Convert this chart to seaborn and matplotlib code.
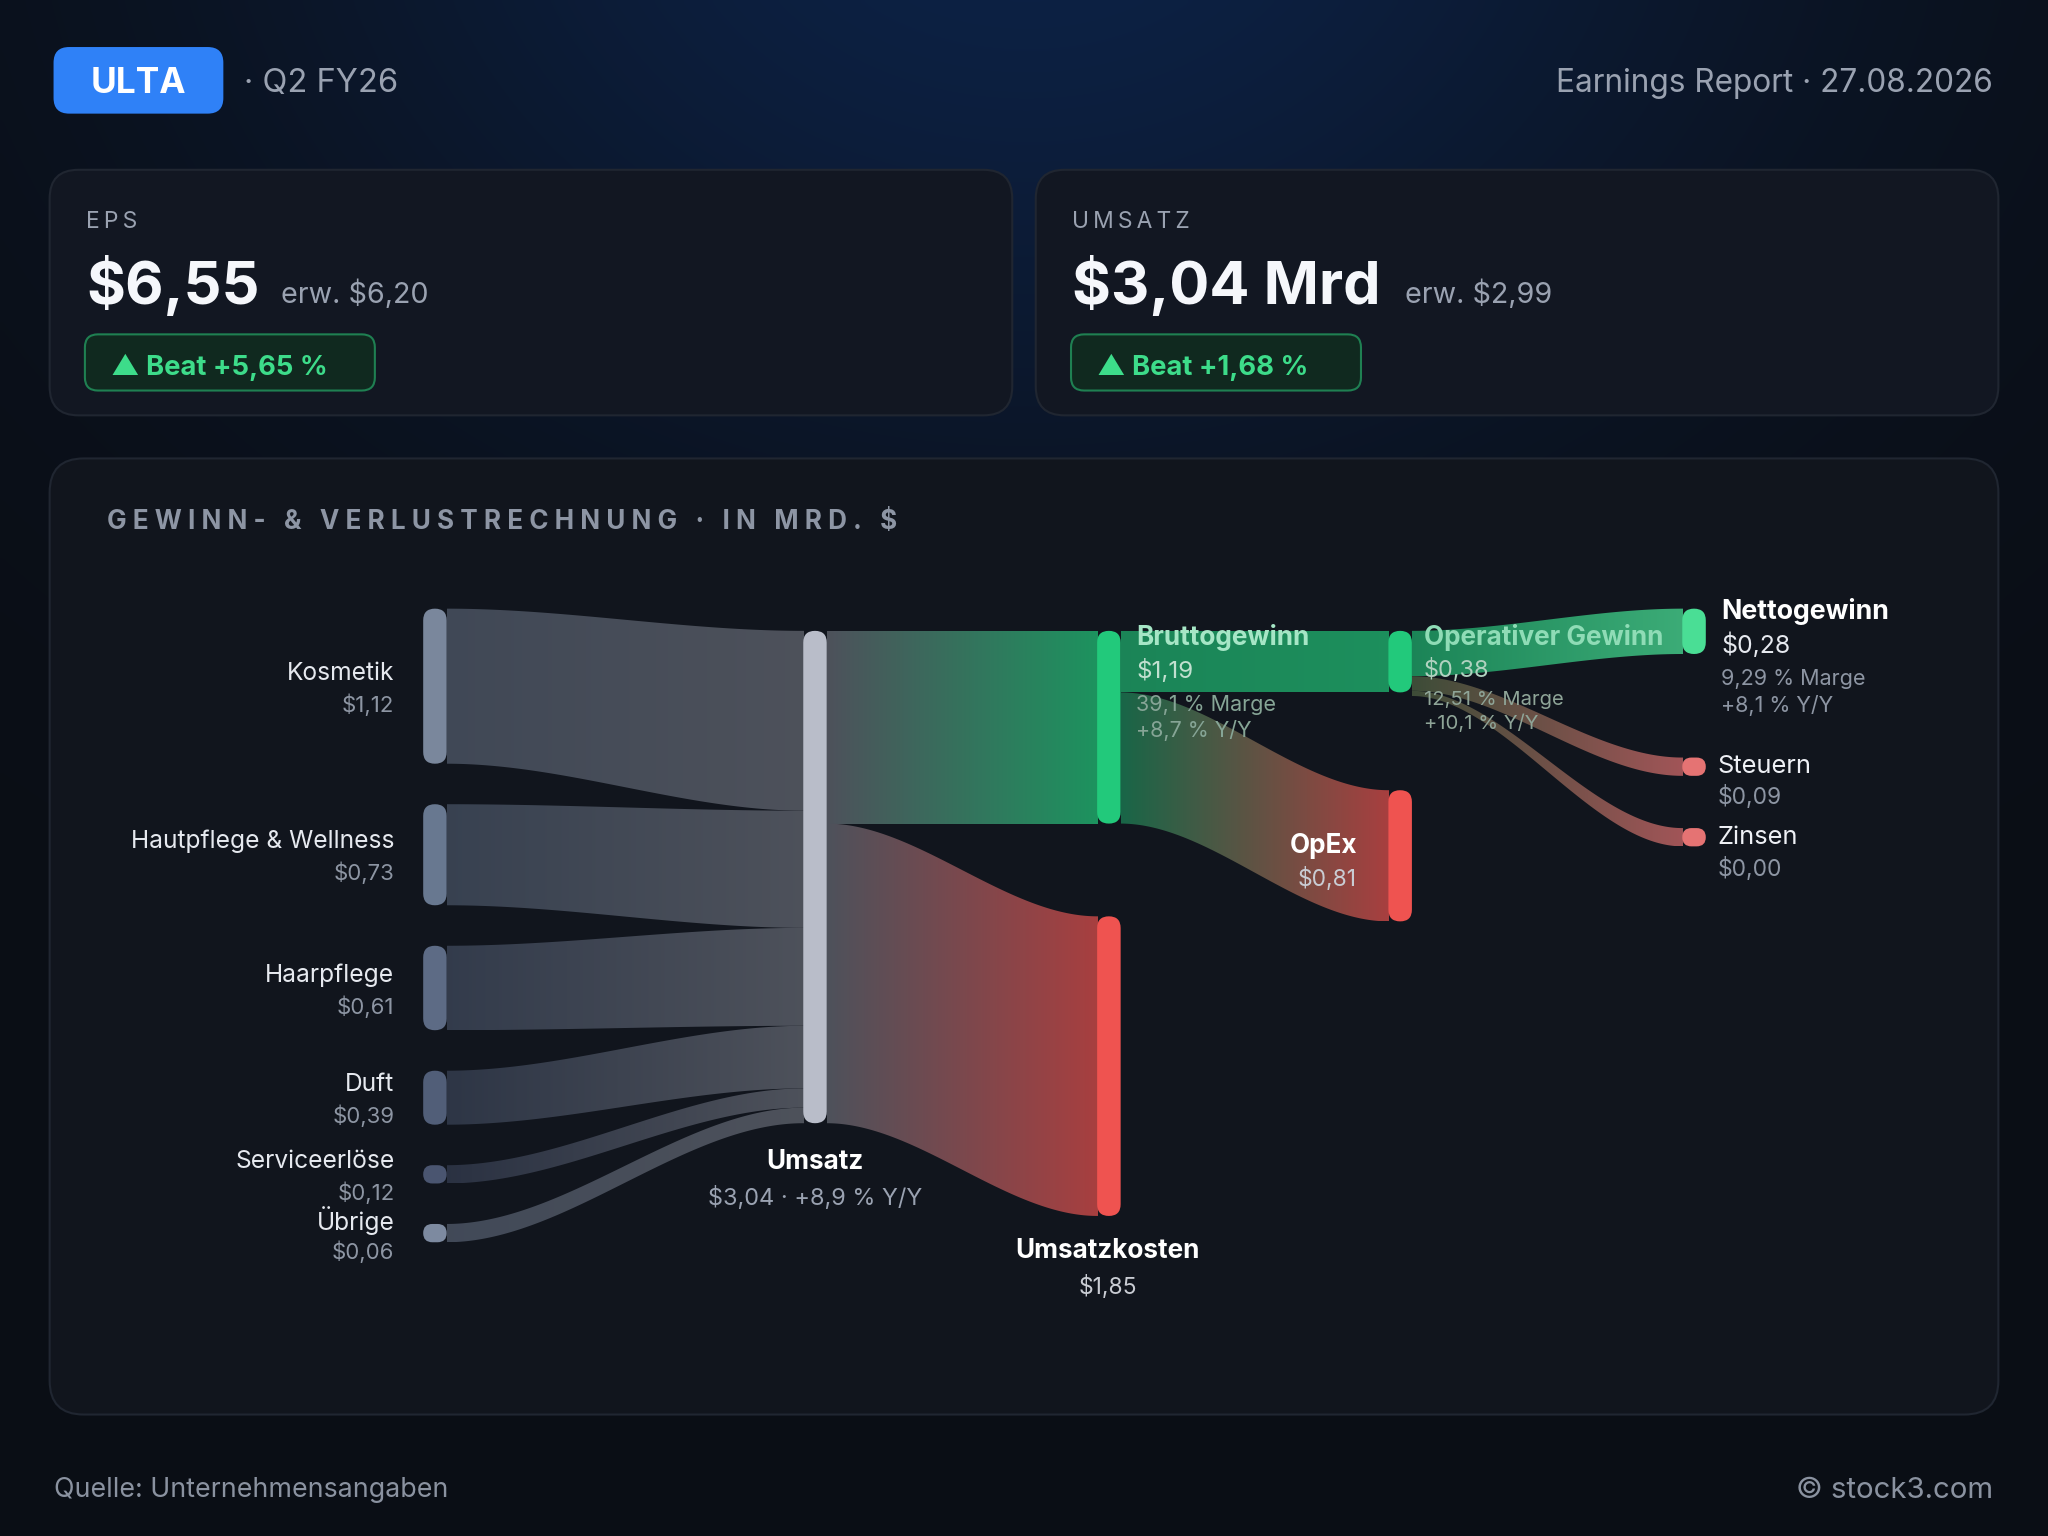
import numpy as np
import pandas as pd
import matplotlib
matplotlib.use("Agg")
import matplotlib.pyplot as plt
import seaborn as sns
from matplotlib.patches import FancyBboxPatch, Polygon
from matplotlib.colors import to_rgba

# ------------------------------------------------------------------ data
ticker = "ULTA"
quarter = "Q2 FY26"
report_date = "27.08.2026"
eps_actual = 6.55
eps_estimate = 6.20
eps_beat_pct = 5.65
rev_actual = 3.04
rev_estimate = 2.99
rev_beat_pct = 1.68

segment_names = ["Kosmetik", "Hautpflege & Wellness", "Haarpflege", "Duft", "Serviceerlöse", "Übrige"]
segment_values = [1.12, 0.73, 0.61, 0.39, 0.12, 0.06]

revenue = 3.04
revenue_yoy = 8.9
cost_of_revenue = 1.85
gross_profit = 1.19
gross_margin = 39.1
gross_yoy = 8.7
opex = 0.81
operating_income = 0.38
operating_margin = 12.51
operating_yoy = 10.1
net_income = 0.28
net_margin = 9.29
net_yoy = 8.1
taxes = 0.09
interest = 0.00

# ------------------------------------------------------------------ style
sns.set_theme(style="dark", rc={"figure.facecolor": "#0a0e15", "axes.facecolor": "#0a0e15"})
plt.rcParams["font.family"] = ["Inter", "DejaVu Sans"]

BG = "#0a0e15"
PANEL = "#11151d"
CARD = "#121722"
EDGE = "#202631"
GRAY = "#9aa2b1"
WHITE = "#eef0f5"
GREEN_TXT = "#3ddc8a"

W, H = 1568, 1176
PT = 0.94  # points per canvas unit


def de(v, nd=2):
    return f"{v:.{nd}f}".replace(".", ",")


def track(s, sep="\u2009"):
    return sep.join(list(s))


fig = plt.figure(figsize=(20.48, 15.36), dpi=100)
ax = fig.add_axes([0, 0, 1, 1])
ax.set_xlim(0, W)
ax.set_ylim(H, 0)
ax.axis("off")


def T(x, y, s, px, color=WHITE, weight="normal", ha="left", va="center", z=6):
    if va == "center":
        y = y + 2
    ax.text(x, y, s, fontsize=px * PT, color=color, fontweight=weight, ha=ha, va=va, zorder=z)


def rbox(x, y, w, h, r, fc, ec="none", lw=0, z=1):
    p = FancyBboxPatch((x, y), w, h, boxstyle=f"round,pad=0,rounding_size={r}",
                       facecolor=fc, edgecolor=ec, linewidth=lw, zorder=z)
    ax.add_patch(p)
    return p


# background with glow at the top
gy, gx = np.mgrid[0:H:4, 0:W:4]
d = np.sqrt(((gx - 784) / 1.25) ** 2 + (gy + 120) ** 2)
w_ = np.exp(-(d / 480.0) ** 2)[..., None]
c_bg = np.array(to_rgba(BG))
c_gl = np.array(to_rgba("#0d2246"))
bgimg = c_bg * (1 - w_) + c_gl * w_
ax.imshow(bgimg, extent=[0, W, H, 0], aspect="auto", interpolation="bicubic", zorder=0)
ax.set_xlim(0, W)
ax.set_ylim(H, 0)

# ------------------------------------------------------------------ header
rbox(41, 36, 130, 51, 12, "#2f81f7", z=2)
T(106, 62, ticker, 27, "white", "bold", ha="center")
T(187, 62, "· " + quarter, 25, GRAY)
T(1526, 62, f"Earnings Report · {report_date}", 24.2, GRAY, ha="right")

# ------------------------------------------------------------------ KPI cards
cards = [
    (38, "EPS", f"${de(eps_actual)}", f"erw. ${de(eps_estimate)}", 215, eps_beat_pct),
    (793, "UMSATZ", f"${de(rev_actual)} Mrd", f"erw. ${de(rev_estimate)}", 1076, rev_beat_pct),
]
for cx, lab, big, est, ex, beat in cards:
    rbox(cx, 130, 737, 188, 22, CARD, EDGE, 1.5, z=1)
    T(cx + 28, 168, track(lab), 17.5, GRAY)
    T(cx + 28, 233, big, 45.5, "#f5f7fb", "bold", va="baseline")
    T(ex, 232, est, 22, GRAY, va="baseline")
    rbox(cx + 27, 256, 222, 43, 10, "#10291f", "#1f8052", 1.5, z=2)
    T(cx + 47, 279, f"▲ Beat +{de(beat)} %", 21, GREEN_TXT, "bold")

# ------------------------------------------------------------------ panel
rbox(38, 351, 1492, 732, 26, PANEL, EDGE, 1.5, z=1)
T(82, 398, track("GEWINN- & VERLUSTRECHNUNG · IN MRD. $", "\u2009\u200a"), 20, "#8d95a4", "bold")

# ------------------------------------------------------------------ sankey
K = 124.0      # canvas units per Mrd $ (main columns)
K0 = 106.0     # source column
NODE_W = 18
MIN_H = 14
col_x = [324, 615, 840, 1063, 1288]
seg_colors = ["#7a879c", "#687890", "#5d6b85", "#515e78", "#4a5570", "#7d8aa0"]

C_REV = "#b9bdc9"
C_GREEN = "#22c97b"
C_RED = "#ef5350"
C_NET = "#4ade95"
C_TAX = "#e57373"


def mix(c, a, base=PANEL):
    c1 = np.array(to_rgba(c))
    c2 = np.array(to_rgba(base))
    return tuple(c1 * a + c2 * (1 - a))


nodes = {}
top = 466.0
for nm, v, c in zip(segment_names, segment_values, seg_colors):
    h = max(v * K0, MIN_H)
    nodes[nm] = dict(col=0, top=top, h=h, color=c)
    top += h + 31

nodes["Umsatz"] = dict(col=1, top=483, h=revenue * K, color=C_REV)
nodes["Bruttogewinn"] = dict(col=2, top=483, h=gross_profit * K, color=C_GREEN)
nodes["Umsatzkosten"] = dict(col=2, top=483 + gross_profit * K + 71, h=cost_of_revenue * K, color=C_RED)
nodes["Operativer Gewinn"] = dict(col=3, top=483, h=operating_income * K, color=C_GREEN)
nodes["OpEx"] = dict(col=3, top=605, h=opex * K, color=C_RED)
nodes["Nettogewinn"] = dict(col=4, top=466, h=max(net_income * K, MIN_H), color=C_NET)
nodes["Steuern"] = dict(col=4, top=580, h=max(taxes * K, MIN_H), color=C_TAX)
nodes["Zinsen"] = dict(col=4, top=634, h=max(interest * K, MIN_H), color=C_TAX)

flows = []
for nm, v, c in zip(segment_names, segment_values, seg_colors):
    flows.append((nm, "Umsatz", v, mix(c, 0.45), mix(C_REV, 0.36)))
flows += [
    ("Umsatz", "Bruttogewinn", gross_profit, mix(C_REV, 0.36), mix(C_GREEN, 0.70)),
    ("Umsatz", "Umsatzkosten", cost_of_revenue, mix(C_REV, 0.36), mix(C_RED, 0.68)),
    ("Bruttogewinn", "Operativer Gewinn", operating_income, mix(C_GREEN, 0.62), mix(C_GREEN, 0.68)),
    ("Bruttogewinn", "OpEx", opex, mix(C_GREEN, 0.45), mix(C_RED, 0.68)),
    ("Operativer Gewinn", "Nettogewinn", net_income, mix(C_GREEN, 0.62), mix(C_NET, 0.75)),
    ("Operativer Gewinn", "Steuern", taxes, mix("#7fa060", 0.40), mix(C_TAX, 0.68)),
    ("Operativer Gewinn", "Zinsen", interest, mix("#7fa060", 0.40), mix(C_TAX, 0.68)),
]

flow_df = pd.DataFrame(flows, columns=["src", "tgt", "value", "c0", "c1"])

# outflow / inflow offsets
out_off = {k: nodes[k]["top"] for k in nodes}
in_w = {}
for tgt, grp in flow_df.groupby("tgt", sort=False):
    if len(grp) == 1:
        in_w[grp.index[0]] = nodes[tgt]["h"]
    else:
        ws = np.maximum(grp["value"].values * K, 12.0)
        ws = ws / ws.sum() * nodes[tgt]["h"]
        for i, wv in zip(grp.index, ws):
            in_w[i] = wv
in_off = {k: nodes[k]["top"] for k in nodes}
n_out = flow_df.groupby("src").size().to_dict()


def smooth(t):
    return t * t * (3 - 2 * t)


def draw_flow(x0, x1, a0, b0, a1, b1, c0, c1, z=2):
    xs = np.linspace(x0, x1, 160)
    s = smooth((xs - x0) / (x1 - x0))
    tp = a0 + (a1 - a0) * s
    bt = b0 + (b1 - b0) * s
    xs = np.concatenate([[x0 - NODE_W / 2], xs, [x1 + NODE_W / 2]])
    tp = np.concatenate([[a0], tp, [a1]])
    bt = np.concatenate([[b0], bt, [b1]])
    verts = np.column_stack([np.concatenate([xs, xs[::-1]]), np.concatenate([tp, bt[::-1]])])
    poly = Polygon(verts, closed=True, facecolor="none", edgecolor="none", zorder=z)
    ax.add_patch(poly)
    g = np.linspace(0, 1, 256)[:, None]
    rgba = (1 - g) * np.array(c0) + g * np.array(c1)
    img = np.repeat(rgba[None, :, :], 2, axis=0)
    im = ax.imshow(img, extent=[x0, x1, max(bt.max(), tp.max()), min(tp.min(), bt.min())],
                   aspect="auto", interpolation="bilinear", zorder=z)
    im.set_clip_path(poly)


for i, r in flow_df.iterrows():
    sN, tN = nodes[r.src], nodes[r.tgt]
    if n_out[r.src] == 1:
        wo = sN["h"]
    else:
        wo = max(r.value * K, 4.0)
    a0 = out_off[r.src]
    b0 = a0 + wo
    out_off[r.src] = b0
    wi = in_w[i]
    a1 = in_off[r.tgt]
    b1 = a1 + wi
    in_off[r.tgt] = b1
    x0 = col_x[sN["col"]] + NODE_W
    x1 = col_x[tN["col"]]
    draw_flow(x0, x1, a0, b0, a1, b1, r.c0, r.c1)

ax.set_xlim(0, W)
ax.set_ylim(H, 0)

for nm, n in nodes.items():
    rbox(col_x[n["col"]], n["top"], NODE_W, n["h"], min(NODE_W / 2, n["h"] / 2), n["color"], z=4)

# ------------------------------------------------------------------ labels
for nm, v in zip(segment_names, segment_values):
    n = nodes[nm]
    cy = n["top"] + n["h"] / 2
    T(302, cy - 12, nm, 18.8, "#e6e9ef", ha="right")
    T(302, cy + 12, f"${de(v)}", 17, "#8d95a3", ha="right")

n = nodes["Umsatz"]
ub = n["top"] + n["h"]
T(624, ub + 28, "Umsatz", 20, "white", "bold", ha="center")
T(624, ub + 55, f"${de(revenue)} · +{de(revenue_yoy, 1)} % Y/Y", 18, "#9aa2b1", ha="center")

T(870, 486, "Bruttogewinn", 20, "#a6e6c6", "bold")
T(870, 512, f"${de(gross_profit)}", 18.5, "#c2e0d0")
T(870, 538, f"{de(gross_margin, 1)} % Marge", 16.5, "#86a596")
T(870, 557, f"+{de(gross_yoy, 1)} % Y/Y", 16.5, "#86a596")

T(1090, 486, "Operativer Gewinn", 20, "#8fdcb6", "bold")
T(1090, 511, f"${de(operating_income)}", 18, "#b0d2c0")
T(1090, 534, f"{de(operating_margin)} % Marge", 15.5, "#8fa598")
T(1090, 552, f"+{de(operating_yoy, 1)} % Y/Y", 15.5, "#8fa598")

T(1318, 466, "Nettogewinn", 20.5, "white", "bold")
T(1318, 492, f"${de(net_income)}", 19, "#e6e9ef")
T(1318, 518, f"{de(net_margin)} % Marge", 16.5, "#8d95a3")
T(1318, 538, f"+{de(net_yoy, 1)} % Y/Y", 16.5, "#8d95a3")

T(1315, 585, "Steuern", 19.5, "#eef0f5")
T(1315, 608, f"${de(taxes)}", 17.5, "#8d95a3")
T(1315, 639, "Zinsen", 19.5, "#eef0f5")
T(1315, 663, f"${de(interest)}", 17.5, "#8d95a3")

T(1039, 646, "OpEx", 20, "white", "bold", ha="right")
T(1039, 671, f"${de(opex)}", 17.5, "#c9ccd3", ha="right")

T(848, 956, "Umsatzkosten", 20, "white", "bold", ha="center")
T(848, 983, f"${de(cost_of_revenue)}", 17.5, "#c9ccd3", ha="center")

# ------------------------------------------------------------------ footer
T(41, 1139, "Quelle: Unternehmensangaben", 20.5, "#8a92a0")
T(1526, 1139, "© stock3.com", 22.5, "#8a92a0", ha="right")

fig.savefig("out.png", dpi=100, facecolor=BG)
